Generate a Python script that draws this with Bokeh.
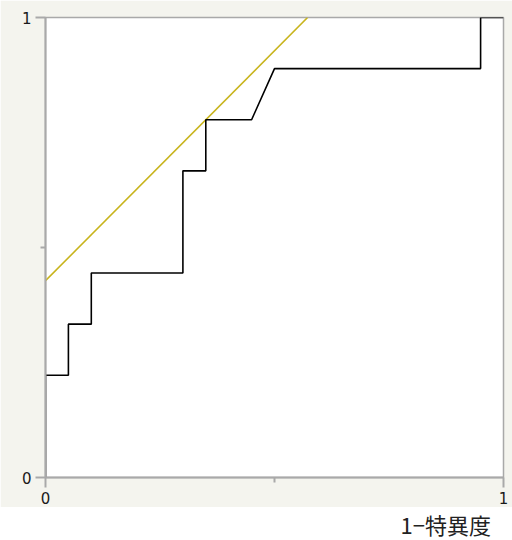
from bokeh.plotting import figure
from bokeh.models import Range1d, FixedTicker
from bokeh.layouts import column
from bokeh.embed import file_html
from bokeh.resources import INLINE
from bokeh.core.properties import value

# ROC curve (1 - specificity vs sensitivity)
fpr = [0.0, 0.0, 0.05, 0.05, 0.10, 0.10, 0.30, 0.30, 0.35, 0.35, 0.45, 0.50, 0.95, 0.95, 1.0]
tpr = [0.0, 2/9, 2/9, 3/9, 3/9, 4/9, 4/9, 6/9, 6/9, 7/9, 7/9, 8/9, 8/9, 1.0, 1.0]

# Youden tangent line (slope 1) through the optimal cut-off point
cut_fpr = 0.35
cut_tpr = 7/9
intercept = cut_tpr - cut_fpr
line_x = [0.0, 1.0 - intercept]
line_y = [x + intercept for x in line_x]

x_ticks = [0, 1]
y_ticks = [0, 1]
minor = [0.5]
x_label = "1−特異度"

BEIGE = "#f4f4ee"
GRAY = "#a9a9a9"

p = figure(width=512, height=507, output_backend="svg", toolbar_location=None,
           x_range=Range1d(0, 1), y_range=Range1d(0, 1),
           min_border_left=45, min_border_right=9, min_border_top=17, min_border_bottom=30)
p.border_fill_color = BEIGE
p.background_fill_color = "white"
p.outline_line_color = GRAY
p.outline_line_width = 1.5
p.grid.visible = False

for ax in (p.xaxis[0], p.yaxis[0]):
    ax.ticker = FixedTicker(ticks=x_ticks, minor_ticks=minor)
    ax.axis_line_color = GRAY
    ax.axis_line_width = 2
    ax.major_tick_line_color = GRAY
    ax.minor_tick_line_color = GRAY
    ax.major_tick_line_width = 2
    ax.minor_tick_line_width = 2
    ax.major_tick_out = 10
    ax.major_tick_in = 0
    ax.minor_tick_out = 5
    ax.minor_tick_in = 0
    ax.major_label_text_font = "DejaVu Sans"
    ax.major_label_text_font_size = "15px"
    ax.major_label_text_color = "#1a1a1a"
    ax.major_label_standoff = 4
p.yaxis[0].ticker = FixedTicker(ticks=y_ticks, minor_ticks=minor)

p.line(line_x, line_y, line_color="#c8b41c", line_width=1.6)
p.line(fpr, tpr, line_color="black", line_width=1.6)

lab = figure(width=512, height=33, output_backend="svg", toolbar_location=None,
             x_range=Range1d(0, 512), y_range=Range1d(33, 0),
             min_border=0)
lab.xaxis.visible = False
lab.yaxis.visible = False
lab.grid.visible = False
lab.outline_line_color = None
lab.border_fill_color = "white"
lab.background_fill_color = "white"
lab.text(x=[498], y=[16.5], text=[x_label],
         text_font=value("Noto Sans CJK JP"), text_font_size="22px",
         text_align="right", text_baseline="middle", text_color="#222222")

layout = column(p, lab, spacing=0)
open("out.html", "w").write(file_html(layout, INLINE))
